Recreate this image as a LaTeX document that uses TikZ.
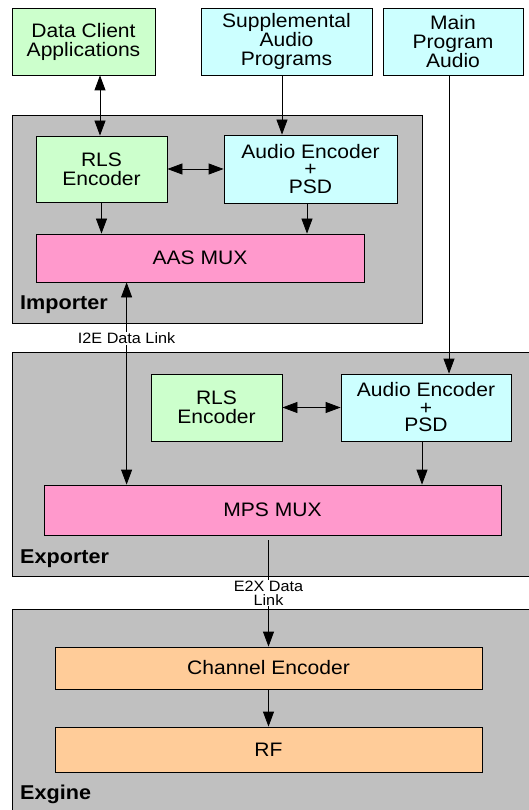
\documentclass[tikz,border=0pt]{standalone}
\usepackage{fontspec}
\setmainfont{Liberation Sans}[FakeStretch=1.08]
\usetikzlibrary{arrows.meta}
\definecolor{cgreen}{HTML}{CCFFCC}
\definecolor{ccyan}{HTML}{CCFFFF}
\definecolor{cpink}{HTML}{FF99CC}
\definecolor{corange}{HTML}{FFCC99}
\definecolor{cgray}{HTML}{C0C0C0}
\tikzset{
  blk/.style={draw=black, line width=0.8pt, inner sep=0pt, align=center,
    font=\fontsize{19.5}{19}\selectfont},
  grp/.style={draw=black, line width=0.8pt, fill=cgray},
  grplbl/.style={anchor=base west, inner sep=0pt, font=\fontsize{20}{20}\selectfont\bfseries},
  lnk/.style={line width=0.8pt, -{Triangle[length=15pt,width=11pt]}},
  dlnk/.style={line width=0.8pt, {Triangle[length=15pt,width=11pt]}-{Triangle[length=15pt,width=11pt]}},
  linklbl/.style={fill=white, inner sep=1pt, align=center, font=\fontsize{15}{15}\selectfont},
}
\begin{document}
\begin{tikzpicture}[x=1pt,y=-1pt]
\useasboundingbox (0,0) rectangle (529,810);
% group boxes
\fill[white] (0,0) rectangle (529,810);
\draw[grp] (12,115) rectangle (422,323);
\draw[grp] (12,352) rectangle (540,576);
\draw[grp] (12,609) rectangle (540,820);
\node[grplbl] (implbl) at (20,309) {Importer};
\node[grplbl] (explbl) at (20,563) {Exporter};
\node[grplbl] (exglbl) at (20,799) {Exgine};
% top sources
\node[blk, fill=cgreen, minimum width=143pt, minimum height=67pt] (dca) at (83.5,41.5) {Data Client\\Applications};
\node[blk, fill=ccyan, minimum width=171pt, minimum height=67pt] (sap) at (286.5,41.5) {Supplemental\\Audio\\Programs};
\node[blk, fill=ccyan, minimum width=140pt, minimum height=67pt] (mpa) at (453,41.5) {Main\\Program\\Audio};
% importer
\node[blk, fill=cgreen, minimum width=131pt, minimum height=66pt] (rls1) at (101.5,169) {RLS\\Encoder};
\node[blk, fill=ccyan, minimum width=173pt, minimum height=68pt, font=\fontsize{19.5}{17.5}\selectfont] (ae1) at (310.5,169) {Audio Encoder\\+\\PSD};
\node[blk, fill=cpink, minimum width=328pt, minimum height=48pt] (aas) at (200,258) {AAS MUX};
% exporter
\node[blk, fill=cgreen, minimum width=131pt, minimum height=67pt] (rls2) at (216.5,407.5) {RLS\\Encoder};
\node[blk, fill=ccyan, minimum width=170pt, minimum height=67pt, font=\fontsize{19.5}{17.5}\selectfont] (ae2) at (426,407.5) {Audio Encoder\\+\\PSD};
\node[blk, fill=cpink, minimum width=457pt, minimum height=50pt] (mps) at (272.5,510) {MPS MUX};
% exgine
\node[blk, fill=corange, minimum width=427pt, minimum height=42pt] (ch) at (268.5,668) {Channel Encoder};
\node[blk, fill=corange, minimum width=427pt, minimum height=45pt] (rf) at (268.5,749.5) {RF};
% connectors
\draw[dlnk] ([xshift=-1.5pt]dca.south -| rls1.north) -- ([xshift=-1.5pt]rls1.north);
\draw[lnk] ([xshift=-4.5pt]sap.south) -- ([xshift=-4.5pt]sap.south |- ae1.north);
\draw[dlnk] (rls1.east) -- (ae1.west);
\draw[lnk] (rls1.south) -- (rls1.south |- aas.north);
\draw[lnk] ([xshift=-3.5pt]ae1.south) -- ([xshift=-3.5pt]ae1.south |- aas.north);
\draw[dlnk] ([xshift=91pt]aas.south west) -- ([xshift=91pt]aas.south west |- mps.north)
  node[linklbl, pos=0.276] (i2e) {I2E Data Link};
\draw[lnk] ([xshift=-4pt]mpa.south) -- ([xshift=-4pt]mpa.south |- ae2.north);
\draw[dlnk] (rls2.east) -- (ae2.west);
\draw[lnk] ([xshift=-4pt]ae2.south) -- ([xshift=-4pt]ae2.south |- mps.north);
\draw[lnk] ([yshift=-5pt]ch.north |- mps.south) -- (ch.north)
  node[linklbl, pos=0.495, font=\fontsize{15}{14}\selectfont] (e2x) {E2X Data\\Link};
\draw[lnk] (ch.south) -- (rf.north);
\end{tikzpicture}
\end{document}
